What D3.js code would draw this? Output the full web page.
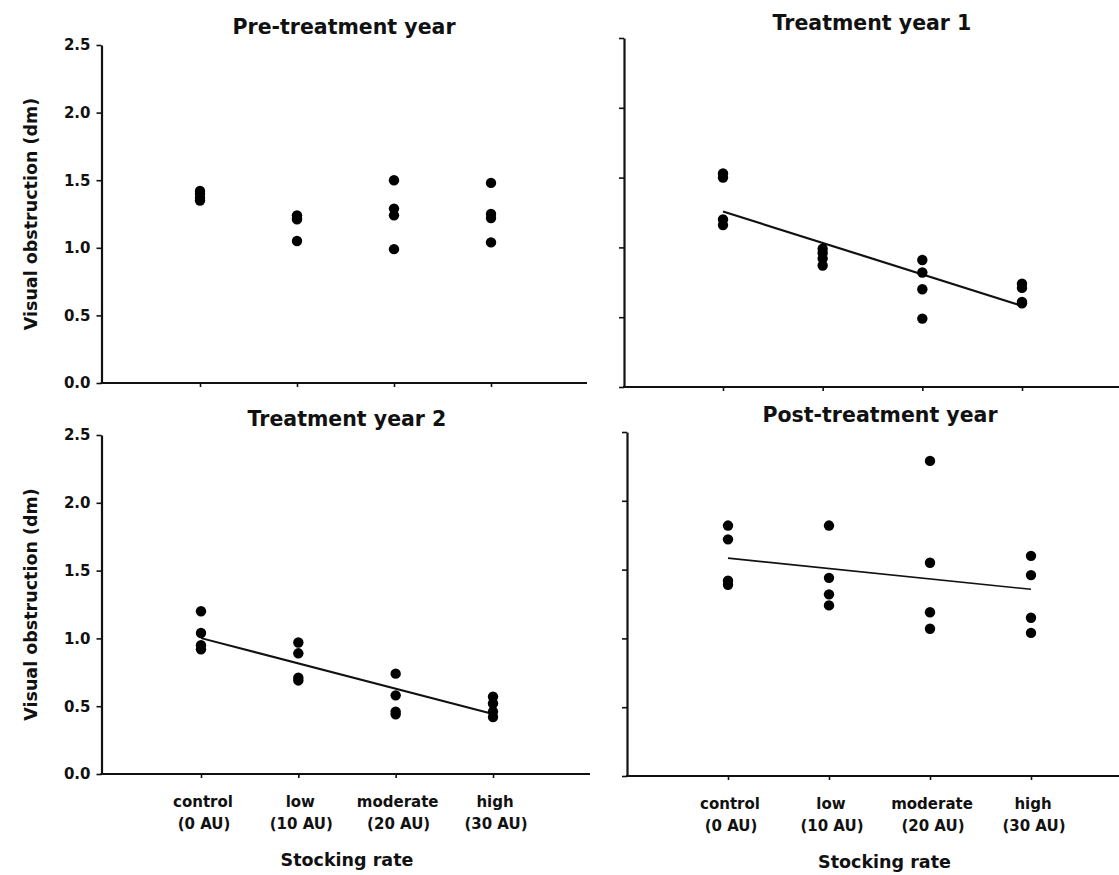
<!DOCTYPE html>
<html>
<head>
<meta charset="utf-8">
<script src="https://cdn.jsdelivr.net/npm/d3@7"></script>
<style>
  body { margin: 0; background: #fff; }
  svg { display: block; }
  text { font-family: "DejaVu Sans", "Liberation Sans", sans-serif; fill: #111; }
</style>
</head>
<body>
<div id="chart"></div>
<script>
// data
var categories = ["control", "low", "moderate", "high"];
var categoryRates = ["(0 AU)", "(10 AU)", "(20 AU)", "(30 AU)"];
var panelTitles = ["Pre-treatment year", "Treatment year 1", "Treatment year 2", "Post-treatment year"];
var yTicks = [0, 0.5, 1.0, 1.5, 2.0, 2.5];

// four pastures per stocking rate, in category order
var preTreatment = [[1.42, 1.40, 1.37, 1.35], [1.24, 1.22, 1.21, 1.05], [1.50, 1.29, 1.24, 0.99], [1.48, 1.25, 1.22, 1.04]];
var treatmentYear1 = [[1.53, 1.50, 1.20, 1.16], [0.99, 0.96, 0.92, 0.87], [0.91, 0.82, 0.70, 0.49], [0.74, 0.71, 0.61, 0.60]];
var treatmentYear2 = [[1.20, 1.04, 0.95, 0.92], [0.97, 0.89, 0.71, 0.69], [0.74, 0.58, 0.46, 0.44], [0.57, 0.52, 0.46, 0.42]];
var postTreatment = [[1.82, 1.72, 1.42, 1.39], [1.82, 1.44, 1.32, 1.24], [2.29, 1.55, 1.19, 1.07], [1.60, 1.46, 1.15, 1.04]];
var showFit = [false, true, true, true];

var panelData = [preTreatment, treatmentYear1, treatmentYear2, postTreatment];

// layout of each panel (pixels)
var panels = [
  { axisX: 101.5, top: 45,  bottom: 383, first: 200, last: 491,  right: 587,  titleX: 344, titleY: 34,  yLabels: true,  xLabels: false, fitWidth: 2 },
  { axisX: 624,   top: 38,  bottom: 387, first: 723, last: 1022, right: 1119, titleX: 872, titleY: 30,  yLabels: false, xLabels: false, fitWidth: 2.2 },
  { axisX: 101.5, top: 435, bottom: 774, first: 201, last: 493,  right: 590,  titleX: 347, titleY: 426, yLabels: true,  xLabels: true,  fitWidth: 2 },
  { axisX: 627,   top: 432, bottom: 776, first: 728, last: 1031, right: 1119, titleX: 880, titleY: 422, yLabels: false, xLabels: true,  fitWidth: 1.6 }
];

var width = 1119, height = 875;

var svg = d3.select("#chart")
    .append("svg").attr("width", width).attr("height", height);

// simple least squares line through all the points of a panel
function leastSquares(groups) {
  var xs = [], ys = [];
  groups.forEach(function(g, i) { g.forEach(function(v) { xs.push(i); ys.push(v); }); });
  var mx = d3.mean(xs), my = d3.mean(ys);
  var sxy = d3.sum(xs, function(x, i) { return (x - mx) * (ys[i] - my); });
  var sxx = d3.sum(xs, function(x) { return (x - mx) * (x - mx); });
  var slope = sxy / sxx;
  return function(x) { return my + slope * (x - mx); };
}

panels.forEach(function(p, k) {
  var g = svg.append("g");
  var groups = panelData[k];

  var x = d3.scalePoint().domain(categories).range([p.first, p.last]);
  var y = d3.scaleLinear().domain([0, 2.5]).range([p.bottom, p.top]);

  // y axis
  var yAxis = d3.axisLeft(y).tickValues(yTicks).tickSize(5).tickSizeOuter(0).tickPadding(6)
      .tickFormat(p.yLabels ? d3.format(".1f") : "");
  var ya = g.append("g").attr("transform", "translate(" + p.axisX + ",0)").call(yAxis);
  ya.select(".domain").attr("stroke", "#111").attr("stroke-width", 2.2);
  ya.selectAll(".tick line").attr("stroke", "#111").attr("stroke-width", 1.6);
  ya.selectAll(".tick text").attr("font-size", "15px").attr("font-weight", "bold")
      .attr("font-family", "DejaVu Sans").attr("fill", "#2a2a2a");

  // x axis
  var xAxis = d3.axisBottom(x).tickSize(4).tickSizeOuter(0).tickFormat("");
  var xa = g.append("g").attr("transform", "translate(0," + p.bottom + ")").call(xAxis);
  xa.select(".domain").remove();
  xa.selectAll(".tick line").attr("stroke", "#111").attr("stroke-width", 1.6);
  g.append("line")
      .attr("x1", p.axisX - 1).attr("x2", p.right)
      .attr("y1", p.bottom).attr("y2", p.bottom)
      .attr("stroke", "#111").attr("stroke-width", 2.2);

  if (p.xLabels) {
    g.selectAll(".cat").data(categories).enter().append("text")
        .attr("x", function(d) { return x(d) + 2; })
        .attr("y", p.bottom + 33)
        .attr("text-anchor", "middle").attr("font-size", "15px").attr("font-weight", "bold")
        .attr("fill", "#2a2a2a")
        .text(function(d) { return d; });
    g.selectAll(".rate").data(categories).enter().append("text")
        .attr("x", function(d) { return x(d) + 3; })
        .attr("y", p.bottom + 55)
        .attr("text-anchor", "middle").attr("font-size", "15px").attr("font-weight", "bold")
        .attr("fill", "#2a2a2a")
        .text(function(d, i) { return categoryRates[i]; });
    g.append("text")
        .attr("x", (p.first + p.last) / 2 + (k == 3 ? 5 : 0))
        .attr("y", p.bottom + 92)
        .attr("text-anchor", "middle").attr("font-size", "17.5px").attr("font-weight", "bold")
        .text("Stocking rate");
  }

  if (p.yLabels) {
    g.append("text")
        .attr("transform", "translate(37," + (p.top + p.bottom) / 2 + ") rotate(-90)")
        .attr("text-anchor", "middle").attr("font-size", "17.5px").attr("font-weight", "bold")
        .text("Visual obstruction (dm)");
  }

  // title
  g.append("text")
      .attr("x", p.titleX).attr("y", p.titleY)
      .attr("text-anchor", "middle").attr("font-size", "20.5px").attr("font-weight", "bold")
      .text(panelTitles[k]);

  // fitted line
  if (showFit[k]) {
    var fit = leastSquares(groups);
    g.append("line")
        .attr("x1", x(categories[0])).attr("y1", y(fit(0)))
        .attr("x2", x(categories[3])).attr("y2", y(fit(3)))
        .attr("stroke", "#111").attr("stroke-width", p.fitWidth);
  }

  // points
  var pts = [];
  groups.forEach(function(vals, i) { vals.forEach(function(v) { pts.push({ c: categories[i], v: v }); }); });
  g.selectAll("circle").data(pts).enter().append("circle")
      .attr("cx", function(d) { return x(d.c); })
      .attr("cy", function(d) { return y(d.v); })
      .attr("r", 5.2)
      .attr("fill", "#000");
});
</script>
</body>
</html>
